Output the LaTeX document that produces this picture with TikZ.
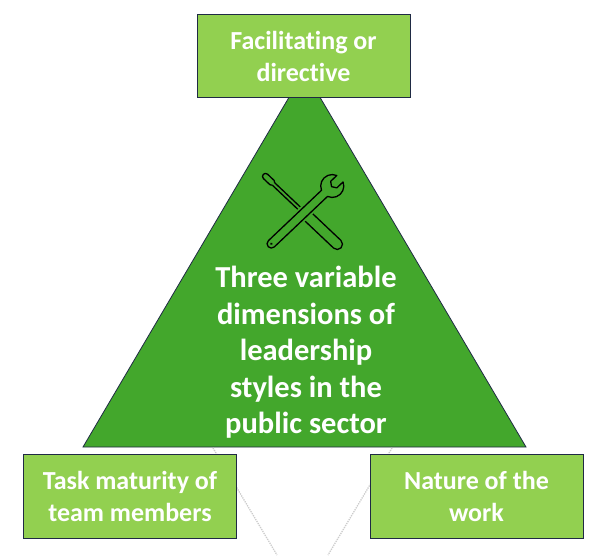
\documentclass[tikz,border=0pt]{standalone}
\usepackage{fontspec}
\setmainfont[Ligatures=NoCommon]{Carlito}
\definecolor{darkgreen}{HTML}{43A72C}
\definecolor{lightgreen}{HTML}{92D050}
\definecolor{navy}{HTML}{1F2A44}
\begin{document}
\begin{tikzpicture}[x=1pt, y=-1pt,
    box/.style={rectangle, draw=navy, line width=0.8pt, fill=lightgreen, text=white,
      align=center, font=\bfseries\fontsize{26}{32}\selectfont,
      minimum width=213pt, minimum height=83.5pt, inner sep=0pt},
    tool/.style={draw=black, line width=1.3pt, line join=round}
    ]
    \useasboundingbox (0,0) rectangle (615,555);
    % triangle
    \coordinate (apex) at (304.5,71);
    \coordinate (left) at (83,447);
    \coordinate (right) at (526,447);
    \draw[navy, line width=0.8pt, fill=darkgreen] (apex) -- (left) -- (right) -- cycle;
    % faint lines below
    \coordinate (fl1) at (213,448);
    \coordinate (fl2) at (277,555);
    \coordinate (fr1) at (392,448);
    \coordinate (fr2) at (328,555);
    \draw[gray!40, densely dotted, line width=1.3pt] (fl1) -- (fl2);
    \draw[gray!40, densely dotted, line width=1.3pt] (fr1) -- (fr2);
    % boxes
    \node[box] (style) at (303.5,56) {Facilitating or\\directive};
    \node[box] (task) at (130,496.5) {Task maturity of\\team members};
    \node[box] (work) at (476.5,496.5) {Nature of the\\work};
    \node[text=white, align=center, inner sep=0pt,
      font=\bfseries\fontsize{30.5}{36.5}\selectfont] (title) at (306,352.3)
      {Three variable\\dimensions of\\leadership\\styles in the\\public sector};
    % screwdriver
    \begin{scope}[shift={(304pt,-212.8pt)}, x=1pt, y=1pt, rotate=-43.4]
      \draw[tool] (-42,1.7) -- (-44,3) -- (-53,3) arc[start angle=90, end angle=270, radius=3]
        -- (-44,-3) -- (-42,-1.7);
      \draw[tool] (-42,1.7) -- (0,1.7);
      \draw[tool] (-42,-1.7) -- (0,-1.7);
      \draw[tool] (0,5.3) -- (45.7,5.3) arc[start angle=90, end angle=-90, radius=5.3]
        -- (0,-5.3) -- cycle;
    \end{scope}
    % wrench
    \begin{scope}[shift={(304pt,-212.8pt)}, x=1pt, y=1pt, rotate=43.5]
      \draw[tool, fill=darkgreen, preaction={draw=darkgreen, line width=5pt}]
        (-45,4.3) -- (28.2,4.3) arc[start angle=158, end angle=23, radius=11.5]
        -- (41,4.5) -- (38,0) -- (41,-4.5) -- (49.6,-4.5)
        arc[start angle=-23, end angle=-158, radius=11.5]
        -- (-45,-4.3) arc[start angle=270, end angle=90, radius=4.3] -- cycle;
      \fill (-45,0) circle (1.3);
    \end{scope}
\end{tikzpicture}
\end{document}
